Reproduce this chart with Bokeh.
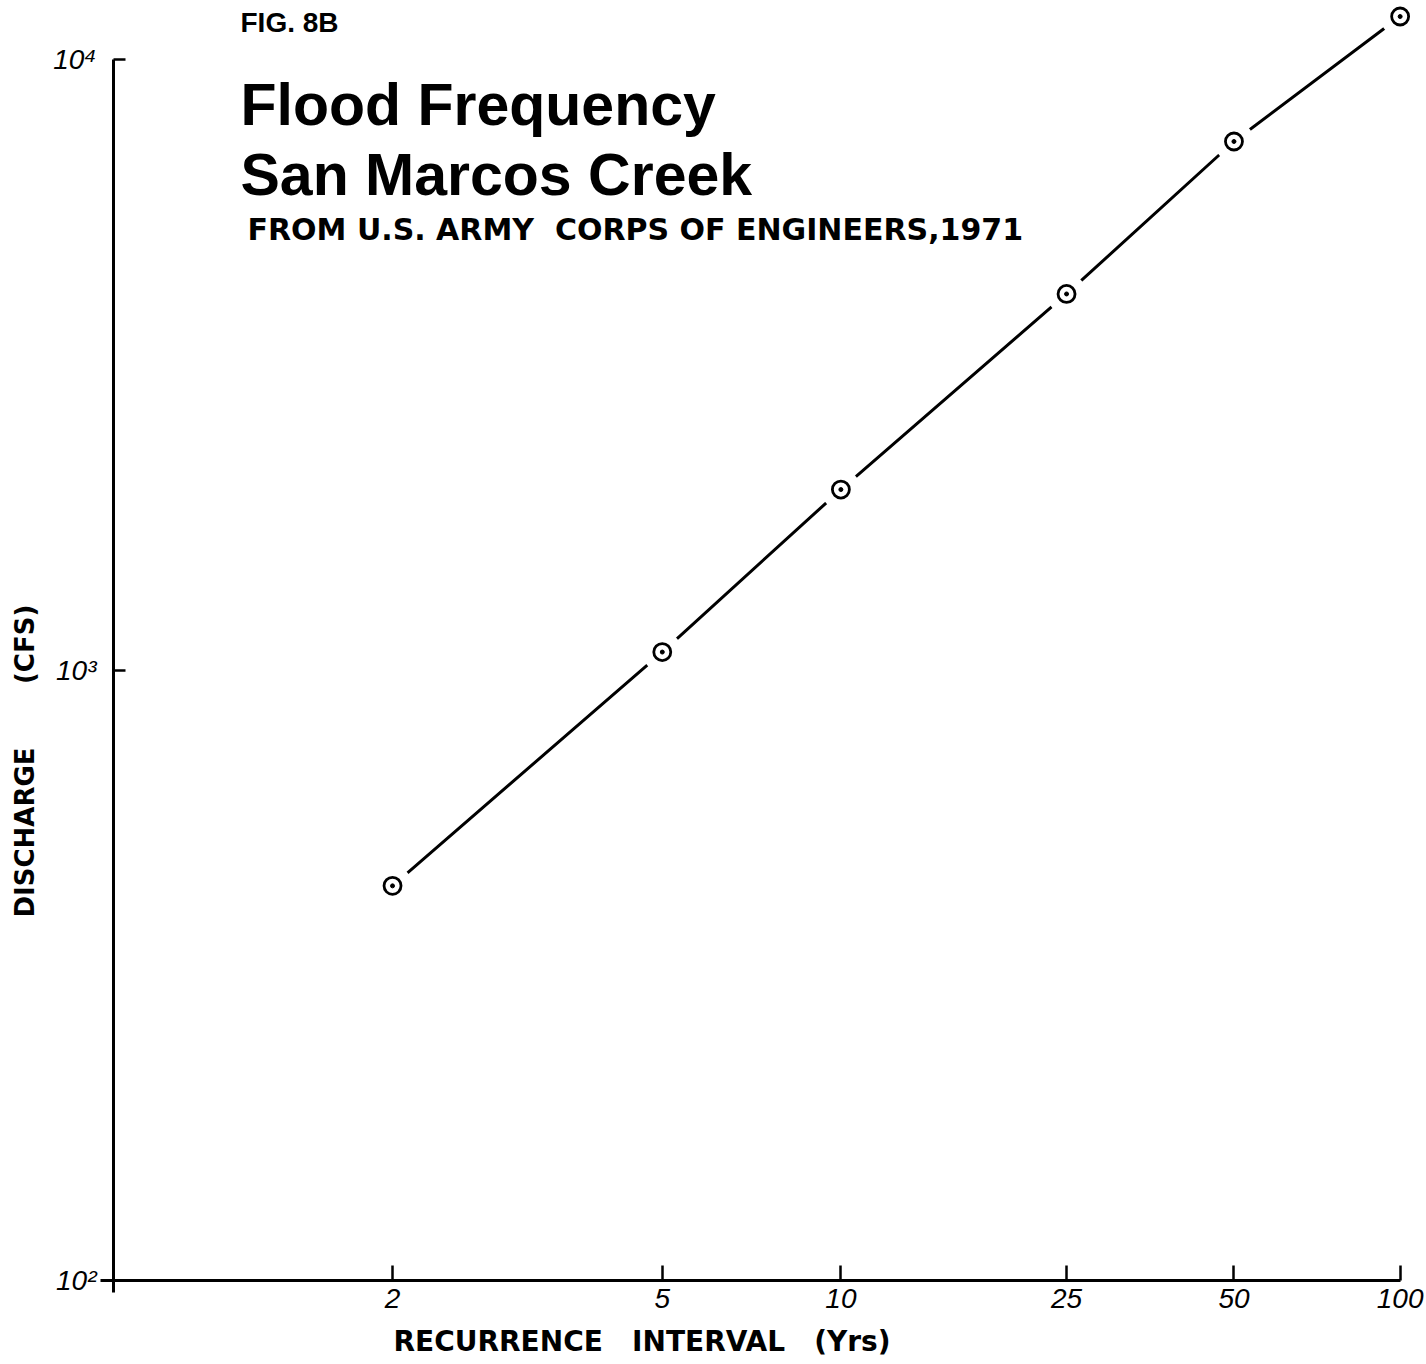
import numpy as np
from bokeh.plotting import figure
from bokeh.models import Range1d, FixedTicker, Label, CustomJSTickFormatter
from bokeh.embed import file_html
from bokeh.resources import INLINE

# ---- data ----
recurrence_years = [2, 5, 10, 25, 50, 100]
discharge_cfs = [443, 1070, 1975, 4130, 7340, 11760]
x_tick_labels = ["2", "5", "10", "25", "50", "100"]
y_ticks = [100, 1000, 10000]
y_tick_labels = ["10²", "10³", "10⁴"]


def gumbel(T):
    # extreme-value (Gumbel) probability paper: reduced variate
    T = np.asarray(T, dtype=float)
    return -np.log(-np.log(1.0 - 1.0 / T))


xs = [float(v) for v in gumbel(recurrence_years)]

# ---- layout (pixel geometry of the page) ----
W, H = 1426, 1364
AX_X, AX_Y = 113, 1280          # canvas position of the axes corner
PX_PER_UNIT = 238.0             # px per Gumbel reduced-variate unit
X0_PX = 304.8                   # canvas x of reduced variate 0
PX_PER_DECADE = 610.5


def x_at(px):
    return (px - X0_PX) / PX_PER_UNIT


def y_at(py):
    return 10 ** (2 + (AX_Y - py) / PX_PER_DECADE)


p = figure(width=W, height=H, y_axis_type="log",
           x_range=Range1d(x_at(0), x_at(W)), y_range=Range1d(y_at(H), y_at(0)),
           output_backend="svg", toolbar_location=None,
           min_border_left=0, min_border_bottom=0,
           min_border_top=0, min_border_right=0)

p.grid.visible = False
p.outline_line_color = None
p.background_fill_color = "white"
p.border_fill_color = "white"

fmt_code = """
let i = 0, d = 1e99;
for (let k = 0; k < tvals.length; k++) {
  const e = Math.abs(tvals[k] - tick);
  if (e < d) { d = e; i = k; }
}
return tlabels[i];
"""

xa = p.xaxis[0]
xa.ticker = FixedTicker(ticks=xs)
xa.formatter = CustomJSTickFormatter(args=dict(tvals=xs, tlabels=x_tick_labels), code=fmt_code)
xa.fixed_location = y_ticks[0]
xa.bounds = (x_at(AX_X - 13), xs[-1])

ya = p.yaxis[0]
ya.ticker = FixedTicker(ticks=y_ticks)
ya.formatter = CustomJSTickFormatter(args=dict(tvals=y_ticks, tlabels=y_tick_labels), code=fmt_code)
ya.fixed_location = x_at(AX_X)
ya.bounds = (y_at(AX_Y + 12), y_ticks[-1])

for ax in (xa, ya):
    ax.axis_line_width = 3
    ax.axis_line_color = "black"
    ax.major_tick_line_width = 2.5
    ax.major_tick_line_color = "black"
    ax.major_tick_out = 0
    ax.minor_tick_line_color = None
    ax.major_label_text_font = "Liberation Sans"
    ax.major_label_text_font_style = "italic"
    ax.major_label_text_font_size = "28px"
    ax.major_label_text_color = "black"
xa.major_tick_in = 15
ya.major_tick_in = 12
xa.major_label_standoff = 8
ya.major_label_standoff = 17

# curve and markers
p.line(xs, discharge_cfs, line_color="black", line_width=3)
p.scatter(xs, discharge_cfs, size=40, fill_color="white", line_color=None)
p.scatter(xs, discharge_cfs, size=17, fill_color="white", line_color="black", line_width=2.8)
p.scatter(xs, discharge_cfs, size=4, fill_color="black", line_color="black")

NB = "\u00a0"


def lab(text, cx, cy, font, size, angle=0.0, style="bold"):
    p.add_layout(Label(x=cx, y=H - cy, x_units="screen", y_units="screen",
                       text=text, text_font=font, text_font_style=style,
                       text_font_size=size, text_color="black",
                       text_baseline="alphabetic", text_align="left", angle=angle))


lab("FIG. 8B", 240, 22, "Liberation Sans", "28px")
lab("Flood Frequency", 240, 104, "Liberation Sans", "59px")
lab("San Marcos Creek", 240, 174, "Liberation Sans", "59px")
lab("FROM U.S. ARMY " + NB + "CORPS OF ENGINEERS,1971", 247, 229, "DejaVu Sans", "30px")
lab("RECURRENCE" + NB * 2 + " INTERVAL" + NB * 2 + " (Yrs)", 393, 1341, "DejaVu Sans", "28px")
lab("DISCHARGE" + NB * 6 + " (CFS)", 24, 917, "DejaVu Sans", "26px", angle=np.pi / 2)

open("out.html", "w").write(file_html(p, INLINE))
